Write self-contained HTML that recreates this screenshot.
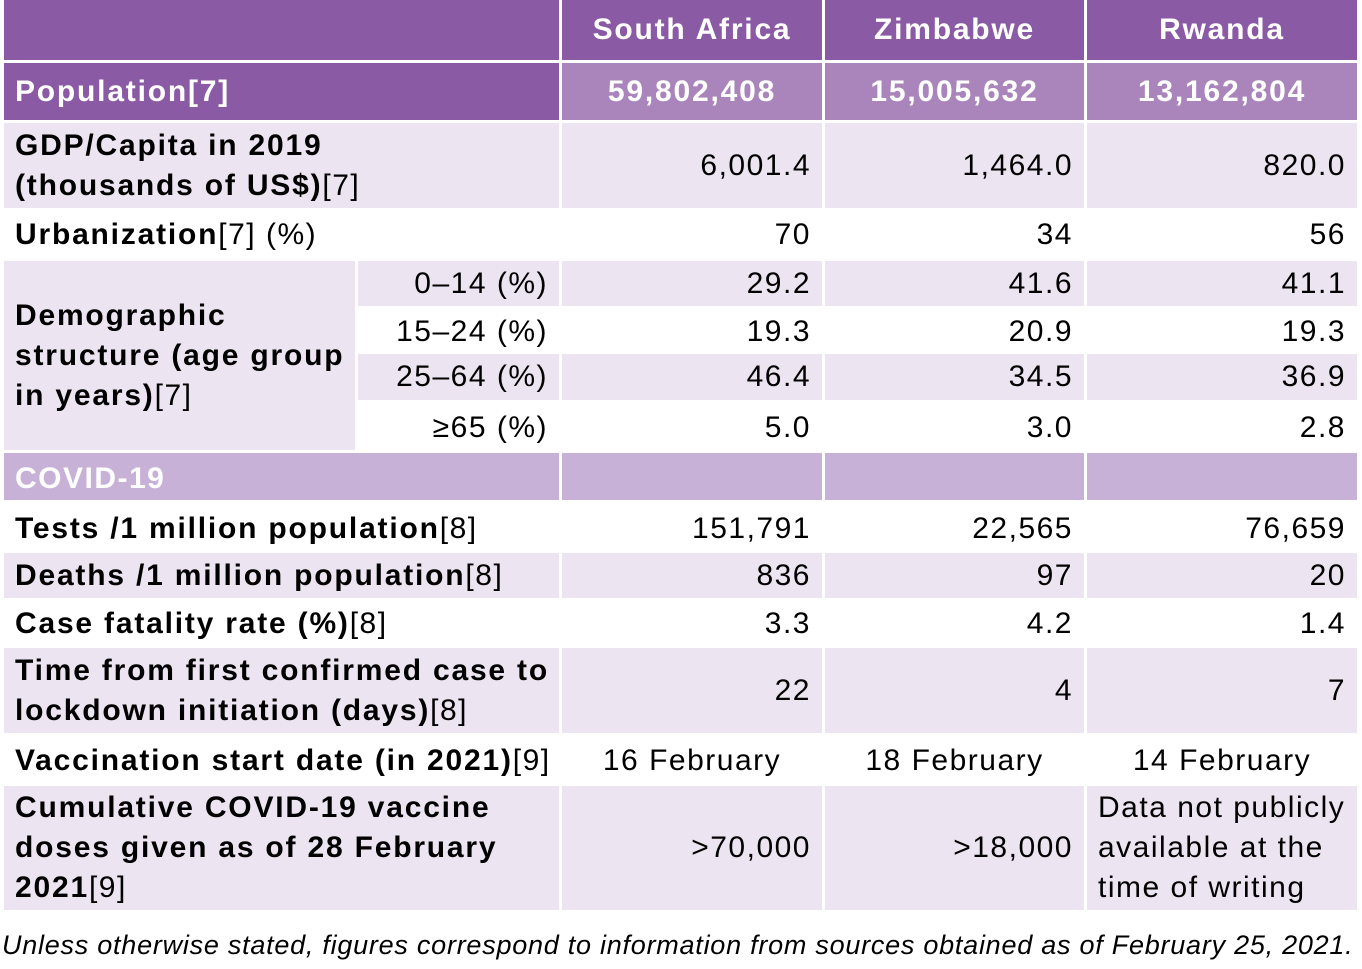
<!DOCTYPE html>
<html><head><meta charset="utf-8"><style>
body{margin:0;width:1362px;height:969px;background:#fff;position:relative;overflow:hidden;font-family:"Liberation Sans",sans-serif;color:#000}
.c{position:absolute;box-sizing:border-box;display:flex;align-items:center;font-size:30px;line-height:40px;letter-spacing:1.5px;white-space:nowrap}
.c b{letter-spacing:1.8px}
.r{justify-content:flex-end;padding-right:11px;text-align:right}
.m{justify-content:center;text-align:center}
.l{padding-left:11px}
.h{background:#8a5aa5;color:#fff;font-weight:bold;letter-spacing:1.8px}
.p{background:#a985bb;color:#fff;font-weight:bold;letter-spacing:1.8px}
.g{background:#ece4f0}
.v{background:#c8b1d6;color:#fff;font-weight:bold}
.c1{left:4px;width:555px}.c2{left:562px;width:260px}.c3{left:825px;width:259px}.c4{left:1087px;width:270px}
</style></head><body>
<div>
<div class="c h c1" style="top:0;height:60px"></div>
<div class="c h c2 m" style="top:0;height:60px">South Africa</div>
<div class="c h c3 m" style="top:0;height:60px">Zimbabwe</div>
<div class="c h c4 m" style="top:0;height:60px">Rwanda</div>
</div>
<div class="c h c1 l" style="top:63px;height:57px">Population[7]</div>
<div class="c p c2 m" style="top:63px;height:57px">59,802,408</div>
<div class="c p c3 m" style="top:63px;height:57px">15,005,632</div>
<div class="c p c4 m" style="top:63px;height:57px">13,162,804</div>

<div class="c g c1 l" style="top:123px;height:85px"><span><b>GDP/Capita in 2019<br>(thousands of US$)</b>[7]</span></div>
<div class="c g c2 r" style="top:123px;height:85px">6,001.4</div>
<div class="c g c3 r" style="top:123px;height:85px">1,464.0</div>
<div class="c g c4 r" style="top:123px;height:85px">820.0</div>

<div class="c c1 l" style="top:211px;height:47px"><span><b>Urbanization</b>[7] (%)</span></div>
<div class="c c2 r" style="top:211px;height:47px">70</div>
<div class="c c3 r" style="top:211px;height:47px">34</div>
<div class="c c4 r" style="top:211px;height:47px">56</div>

<div class="c g l" style="left:4px;width:351px;top:261px;height:189px"><span><b>Demographic<br>structure (age group<br>in years)</b>[7]</span></div>

<div class="c g r" style="left:358px;width:201px;top:261px;height:45px">0–14 (%)</div>
<div class="c g c2 r" style="top:261px;height:45px">29.2</div>
<div class="c g c3 r" style="top:261px;height:45px">41.6</div>
<div class="c g c4 r" style="top:261px;height:45px">41.1</div>

<div class="c r" style="left:358px;width:201px;top:309px;height:45px">15–24 (%)</div>
<div class="c c2 r" style="top:309px;height:45px">19.3</div>
<div class="c c3 r" style="top:309px;height:45px">20.9</div>
<div class="c c4 r" style="top:309px;height:45px">19.3</div>

<div class="c g r" style="left:358px;width:201px;top:354px;height:46px">25–64 (%)</div>
<div class="c g c2 r" style="top:354px;height:46px">46.4</div>
<div class="c g c3 r" style="top:354px;height:46px">34.5</div>
<div class="c g c4 r" style="top:354px;height:46px">36.9</div>

<div class="c r" style="left:358px;width:201px;top:405px;height:46px">≥65 (%)</div>
<div class="c c2 r" style="top:405px;height:46px">5.0</div>
<div class="c c3 r" style="top:405px;height:46px">3.0</div>
<div class="c c4 r" style="top:405px;height:46px">2.8</div>

<div class="c v c1 l" style="top:453px;height:47px;padding-top:4px">COVID-19</div>
<div class="c v c2" style="top:453px;height:47px"></div>
<div class="c v c3" style="top:453px;height:47px"></div>
<div class="c v c4" style="top:453px;height:47px"></div>

<div class="c c1 l" style="top:505px;height:47px"><span><b>Tests /1 million population</b>[8]</span></div>
<div class="c c2 r" style="top:505px;height:47px">151,791</div>
<div class="c c3 r" style="top:505px;height:47px">22,565</div>
<div class="c c4 r" style="top:505px;height:47px">76,659</div>

<div class="c g c1 l" style="top:553px;height:45px"><span><b>Deaths /1 million population</b>[8]</span></div>
<div class="c g c2 r" style="top:553px;height:45px">836</div>
<div class="c g c3 r" style="top:553px;height:45px">97</div>
<div class="c g c4 r" style="top:553px;height:45px">20</div>

<div class="c c1 l" style="top:602px;height:44px"><span><b>Case fatality rate (%)</b>[8]</span></div>
<div class="c c2 r" style="top:602px;height:44px">3.3</div>
<div class="c c3 r" style="top:602px;height:44px">4.2</div>
<div class="c c4 r" style="top:602px;height:44px">1.4</div>

<div class="c g c1 l" style="top:648px;height:85px"><span><b>Time from first confirmed case to<br>lockdown initiation (days)</b>[8]</span></div>
<div class="c g c2 r" style="top:648px;height:85px">22</div>
<div class="c g c3 r" style="top:648px;height:85px">4</div>
<div class="c g c4 r" style="top:648px;height:85px">7</div>

<div class="c c1 l" style="top:737px;height:47px"><span><b>Vaccination start date (in 2021)</b>[9]</span></div>
<div class="c c2 m" style="top:737px;height:47px">16 February</div>
<div class="c c3 m" style="top:737px;height:47px">18 February</div>
<div class="c c4 m" style="top:737px;height:47px">14 February</div>

<div class="c g c1 l" style="top:786px;height:124px"><span><b>Cumulative COVID-19 vaccine<br>doses given as of 28 February<br>2021</b>[9]</span></div>
<div class="c g c2 r" style="top:786px;height:124px">&gt;70,000</div>
<div class="c g c3 r" style="top:786px;height:124px">&gt;18,000</div>
<div class="c g c4" style="top:786px;height:124px;padding-left:11px">Data not publicly<br>available at the<br>time of writing</div>

<div class="c" style="left:2px;top:925px;height:40px;font-size:27px;font-style:italic;letter-spacing:0.75px">Unless otherwise stated, figures correspond to information from sources obtained as of February 25, 2021.</div>
</body></html>
